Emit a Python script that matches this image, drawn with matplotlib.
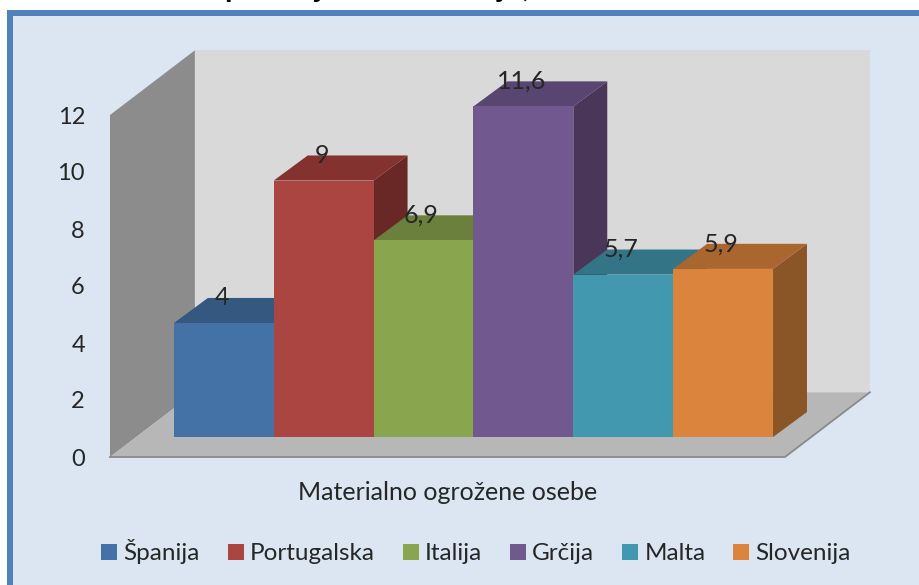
import matplotlib
matplotlib.use("Agg")
import matplotlib.pyplot as plt
from matplotlib.patches import Polygon, Rectangle

plt.rcParams['font.family'] = ['Lato', 'DejaVu Sans']

categories = ["Španija", "Portugalska", "Italija", "Grčija", "Malta", "Slovenija"]
values = [4, 9, 6.9, 11.6, 5.7, 5.9]
labels = ["4", "9", "6,9", "11,6", "5,7", "5,9"]
yticks = [0, 2, 4, 6, 8, 10, 12]
xlabel = "Materialno ogrožene osebe"
title = "primerjava s Slovenijo, Malto in EU"
front = ["#4471A6", "#AB4542", "#89A54E", "#71588F", "#4198AF", "#DB843D"]
top = ["#345880", "#843230", "#6B803C", "#584570", "#337486", "#A9662E"]
side = ["#2B4A6C", "#692826", "#556630", "#4A3659", "#2A5F6E", "#8A5527"]

W, H = 920, 585
fig = plt.figure(figsize=(W / 100, H / 100), dpi=100, facecolor="white")

# chart area with border, running off the right and bottom edges
fig.add_artist(Rectangle((10.5 / W, -0.1), 1.1, 1.1 - 13.5 / H, transform=fig.transFigure,
                         facecolor="#DCE6F2", edgecolor="#4F81BD", linewidth=4.3, zorder=-1))

ax = fig.add_axes([110 / W, (H - 457) / H, 675 / W, 342 / H])
ax.patch.set_visible(False)
ax.set_xlim(-0.87, 5.89)
ax.set_ylim(0, 12)
for s in ax.spines.values():
    s.set_visible(False)
ax.set_xticks([])
ax.set_yticks(yticks)
ax.set_yticklabels([str(t) for t in yticks], fontsize=17, color="#262626")
ax.tick_params(axis="y", length=0, pad=18)

x0, x1 = ax.get_xlim()
y1 = ax.get_ylim()[1]
WX, WY = 0.85, 2.27     # depth of the box
FX, FY = 0.27, 0.70     # floor offset of the bars
BX, BY = 0.34, 0.88     # depth of the bars


def face(pts, color, z):
    ax.add_patch(Polygon(pts, closed=True, facecolor=color, edgecolor="none",
                         clip_on=False, zorder=z))


# walls
face([(x0 + WX, WY), (x1 + WX, WY), (x1 + WX, y1 + WY), (x0 + WX, y1 + WY)], "#D9D9D9", 1)
face([(x0, 0), (x0 + WX, WY), (x0 + WX, y1 + WY), (x0, y1)], "#8C8C8C", 1.1)
face([(x0, 0), (x1, 0), (x1 + WX, WY), (x0 + WX, WY)], "#B7B7B7", 1.2)
ax.plot([x0, x1, x1 + WX], [0, 0, WY], color="#8A8A8A", lw=1.3, clip_on=False, zorder=1.3)

# bars
for i, (name, v) in enumerate(zip(categories, values)):
    l, r = i - 0.5 + FX, i + 0.5 + FX
    b, t = FY, FY + v
    face([(r, b), (r + BX, b + BY), (r + BX, t + BY), (r, t)], side[i], 2)
    face([(l, t), (r, t), (r + BX, t + BY), (l + BX, t + BY)], top[i], 2)
    ax.bar(i + FX, v, width=1, bottom=FY, color=front[i], label=name, zorder=3, clip_on=False)

for i, (v, s) in enumerate(zip(values, labels)):
    ax.text(i + FX - 0.02, v + FY + BY, s, ha="center", va="center",
            fontsize=18, color="#262626", zorder=5, clip_on=False)

ax.set_xlabel(xlabel, fontsize=18, color="#262626", labelpad=17)

ax.legend(loc="center", bbox_to_anchor=(476 / W, (H - 552) / H), bbox_transform=fig.transFigure,
          ncol=6, frameon=False, fontsize=17.5, handlelength=0.66, handleheight=0.66,
          handletextpad=0.25, columnspacing=1.15, labelcolor="#262626", borderpad=0, borderaxespad=0)

# title, cut off by the top edge of the picture
fig.text(225 / W, 1 + 3.5 / H, title, ha="left", va="baseline", fontsize=22,
         fontweight="bold", color="black")

fig.savefig("out.png", dpi=100, facecolor="white")
